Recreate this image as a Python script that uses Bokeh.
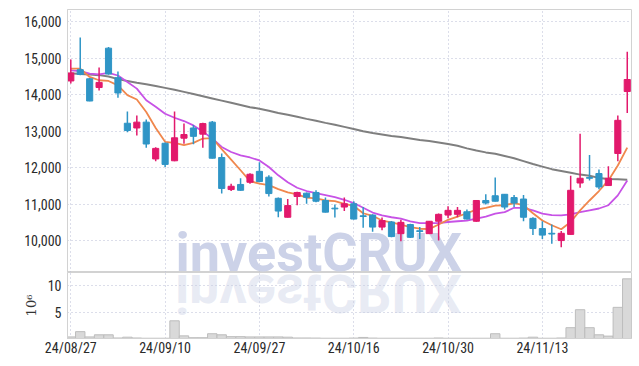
from bokeh.plotting import figure
from bokeh.layouts import column
from bokeh.models import (ColumnDataSource, FixedTicker, NumeralTickFormatter,
                          Range1d, Label, Div)
from bokeh.embed import file_html
from bokeh.resources import INLINE

# ---------------- data ----------------
dates = ["24/08/27", "24/08/28", "24/08/29", "24/08/30", "24/09/02", "24/09/03",
         "24/09/04", "24/09/05", "24/09/06", "24/09/09", "24/09/10", "24/09/11",
         "24/09/12", "24/09/13", "24/09/19", "24/09/20", "24/09/23", "24/09/24",
         "24/09/25", "24/09/26", "24/09/27", "24/09/30", "24/10/02", "24/10/04",
         "24/10/07", "24/10/08", "24/10/10", "24/10/11", "24/10/14", "24/10/15",
         "24/10/16", "24/10/17", "24/10/18", "24/10/21", "24/10/22", "24/10/23",
         "24/10/24", "24/10/25", "24/10/28", "24/10/29", "24/10/30", "24/10/31",
         "24/11/01", "24/11/04", "24/11/05", "24/11/06", "24/11/07", "24/11/08",
         "24/11/11", "24/11/12", "24/11/13", "24/11/14", "24/11/15", "24/11/18",
         "24/11/19", "24/11/20", "24/11/21", "24/11/22", "24/11/25", "24/11/26"]

opens = [14380, 14690, 14440, 14200, 15280, 14470, 13220, 13090, 13250, 12240,
         12670, 12190, 12810, 13090, 12920, 13250, 12280, 11400, 11540, 11600,
         11900, 11740, 11160, 10640, 11210, 11300, 11320, 11100, 10890, 10920,
         11010, 10680, 10700, 10370, 10510, 10190, 10440, 10270, 10190, 10530,
         10700, 10720, 10790, 10530, 11100, 11230, 11270, 11180, 11140, 10610,
         10330, 10200, 10000, 10170, 11580, 11730, 11840, 11510, 12390, 14090]
highs = [14970, 15570, 14460, 14750, 15310, 14640, 13540, 13430, 13320, 12560,
         12690, 13540, 13210, 13170, 13230, 13280, 12390, 11560, 11710, 11850,
         12150, 11790, 11180, 11140, 11340, 11320, 11380, 11180, 10990, 11180,
         11080, 10920, 10720, 10630, 10540, 10570, 10460, 10370, 10540, 10740,
         10940, 10920, 10850, 11110, 11270, 11730, 11280, 11250, 11250, 10640,
         10530, 10440, 10260, 11780, 12930, 12350, 11950, 12040, 13430, 15180]
lows = [14310, 14540, 13820, 14120, 14550, 13920, 12970, 12880, 12550, 12180,
        12020, 12180, 12660, 12640, 12550, 12250, 11290, 11360, 11370, 11560,
        11600, 11210, 10640, 10630, 10970, 11010, 11050, 10770, 10630, 10810,
        10580, 10350, 10240, 10280, 10090, 9980, 10070, 10040, 10180, 10000,
        10610, 10640, 10580, 10520, 10990, 11070, 10850, 10920, 10530, 10150,
        10040, 9910, 9820, 10160, 11450, 11650, 11410, 11500, 12180, 13500]
closes = [14600, 14560, 13830, 14340, 14570, 14050, 13020, 13250, 12650, 12530,
          12090, 12820, 12910, 12860, 13210, 12260, 11430, 11490, 11380, 11820,
          11620, 11290, 10810, 10960, 11320, 11190, 11080, 10780, 10870, 11010,
          10590, 10660, 10370, 10550, 10110, 10500, 10090, 10250, 10530, 10720,
          10830, 10830, 10590, 11100, 11030, 11080, 10920, 11030, 10640, 10330,
          10150, 10180, 10200, 11380, 11710, 11710, 11470, 11710, 13300, 14420]

# volume in millions of shares
volume = [0.3, 1.3, 0.3, 0.7, 0.7, 0.1, 0.25, 0.1, 0.05, 0.05,
          0.05, 3.35, 0.5, 0.15, 0.15, 0.9, 0.7, 0.35, 0.35, 0.3,
          0.3, 0.3, 0.3, 0.25, 0.1, 0.1, 0.08, 0.05, 0.05, 0.05,
          0.08, 0.2, 0.08, 0.05, 0.05, 0.05, 0.05, 0.05, 0.05, 0.1,
          0.05, 0.05, 0.05, 0.05, 0.05, 0.9, 0.05, 0.05, 0.08, 0.25,
          0.05, 0.05, 0.1, 2.05, 5.45, 2.05, 0.7, 0.45, 5.9, 11.3]

ma_short = [14720, 14720, 14490, 14400, 14380, 14260, 13990, 13870, 13530, 13090,
            12710, 12680, 12620, 12680, 12800, 12810, 12510, 12220, 11930, 11630,
            11560, 11520, 11410, 11320, 11270, 11180, 11160, 11100, 11080, 11010,
            10950, 10750, 10680, 10550, 10500, 10440, 10370, 10325, 10315, 10440,
            10570, 10660, 10750, 10850, 10900, 10960, 10970, 11030, 10970, 10750,
            10550, 10420, 10310, 10510, 10830, 11100, 11360, 11650, 12060, 12550]
ma_mid = [14670, 14650, 14580, 14560, 14600, 14530, 14350, 14170, 13850, 13670,
          13480, 13370, 13280, 13160, 12990, 12800, 12570, 12430, 12340, 12280,
          12200, 12020, 11790, 11600, 11450, 11360, 11300, 11250, 11190, 11120,
          11030, 10900, 10770, 10690, 10640, 10600, 10530, 10480, 10480, 10480,
          10510, 10530, 10550, 10600, 10660, 10740, 10780, 10900, 10900, 10830,
          10740, 10700, 10690, 10720, 10780, 10830, 10880, 10970, 11240, 11650]
ma_long = [14590, 14570, 14560, 14540, 14500, 14430, 14380, 14330, 14290, 14240,
           14190, 14140, 14080, 14020, 13960, 13900, 13840, 13780, 13720, 13660,
           13620, 13560, 13500, 13450, 13400, 13340, 13290, 13230, 13180, 13120,
           13060, 13000, 12950, 12910, 12870, 12840, 12800, 12760, 12730, 12690,
           12650, 12600, 12530, 12470, 12420, 12380, 12320, 12260, 12180, 12100,
           12030, 11960, 11910, 11860, 11810, 11780, 11720, 11690, 11680, 11670]

price_ticks = [10000, 11000, 12000, 13000, 14000, 15000, 16000]
volume_ticks = [5, 10]
date_tick_idx = [0, 10, 20, 30, 40, 50]

# ---------------- styling ----------------
UP = "#e2196c"
DOWN = "#2f95c6"
TICK_FONT = "'Roboto Condensed', 'Liberation Sans Narrow', Roboto, sans-serif"
GRID_COLOR = "#b9bdd4"
OUTLINE = "#d2d2d2"

xs = list(range(len(dates)))
colors = [UP if c >= o else DOWN for o, c in zip(opens, closes)]
src = ColumnDataSource(dict(
    x=xs, open=opens, high=highs, low=lows, close=closes,
    top=[max(o, c) for o, c in zip(opens, closes)],
    bottom=[min(o, c) for o, c in zip(opens, closes)],
    color=colors, vol=volume, ma_s=ma_short, ma_m=ma_mid, ma_l=ma_long))

x_range = Range1d(-0.35, 59.45)

W = 633
p = figure(width=W, height=272, x_range=x_range, y_range=Range1d(9124, 16341),
           output_backend="svg", toolbar_location=None,
           min_border_left=67, min_border_right=2, min_border_top=9,
           min_border_bottom=0)
p.xaxis.visible = False
p.xgrid.ticker = FixedTicker(ticks=date_tick_idx)
p.yaxis.ticker = FixedTicker(ticks=price_ticks)
p.yaxis.formatter = NumeralTickFormatter(format="0,0")

vp = figure(width=W, height=86, x_range=x_range, y_range=Range1d(0, 12.5),
            output_backend="svg", toolbar_location=None,
            min_border_left=67, min_border_right=2, min_border_top=0,
            min_border_bottom=0)
vp.xaxis.ticker = FixedTicker(ticks=date_tick_idx)
vp.xaxis.major_label_overrides = {i: dates[i] for i in date_tick_idx}
vp.yaxis.ticker = FixedTicker(ticks=volume_ticks)
vp.yaxis.axis_label = "10\u2076"
vp.yaxis.axis_label_text_font = "DejaVu Serif"
vp.yaxis.axis_label_text_font_style = "normal"
vp.yaxis.axis_label_text_font_size = "13px"
vp.yaxis.axis_label_text_color = "#333333"
vp.yaxis.axis_label_standoff = 6

for f in (p, vp):
    f.background_fill_color = "white"
    f.border_fill_color = "white"
    f.outline_line_color = OUTLINE
    for ax in f.axis:
        ax.axis_line_color = OUTLINE
        ax.major_tick_line_color = None
        ax.minor_tick_line_color = None
        ax.major_tick_out = 0
        ax.minor_tick_out = 0
        ax.major_label_text_font = TICK_FONT
        ax.major_label_text_font_size = "14px"
        ax.major_label_text_color = "#2a2a2a"
        ax.major_label_standoff = 6
    for g in f.grid:
        g.grid_line_color = GRID_COLOR
        g.grid_line_dash = "1 3"
        g.grid_line_width = 1

vp.xaxis.major_label_standoff = 1

# watermark
wm = Label(x=108, y=-11, x_units="screen", y_units="screen", text="investCRUX",
           text_font="Roboto", text_font_style="bold", text_font_size="54px",
           text_baseline="bottom",
           text_color="#ccd2e8", level="underlay")
p.add_layout(wm)

# mirrored watermark reflection over the volume panel
reflection = Div(text="investCRUX", styles={
    "position": "absolute", "left": "175px", "top": "266px",
    "transform": "scaleY(-1)", "font-family": "Roboto", "font-weight": "bold",
    "font-size": "54px", "line-height": "54px", "color": "rgba(200,206,228,0.42)",
    "pointer-events": "none", "margin": "0", "padding": "0",
    "white-space": "nowrap"})

# moving averages
p.line("x", "ma_l", source=src, line_color="#7f7f7f", line_width=2)
p.line("x", "ma_m", source=src, line_color="#c752e6", line_width=1.8)
p.line("x", "ma_s", source=src, line_color="#f0874d", line_width=1.8)

# candles
p.segment(x0="x", y0="low", x1="x", y1="high", source=src, line_color="color",
          line_width=1.5)
p.vbar(x="x", width=0.65, top="top", bottom="bottom", source=src,
       fill_color="color", line_color="color", line_width=1)

# volume
vp.vbar(x="x", width=1.0, top="vol", bottom=0, source=src,
        fill_color="#d9d9d9", line_color="#bdbdbd", line_width=1)

layout = column(p, vp, reflection)
open("out.html", "w").write(file_html(layout, INLINE))
